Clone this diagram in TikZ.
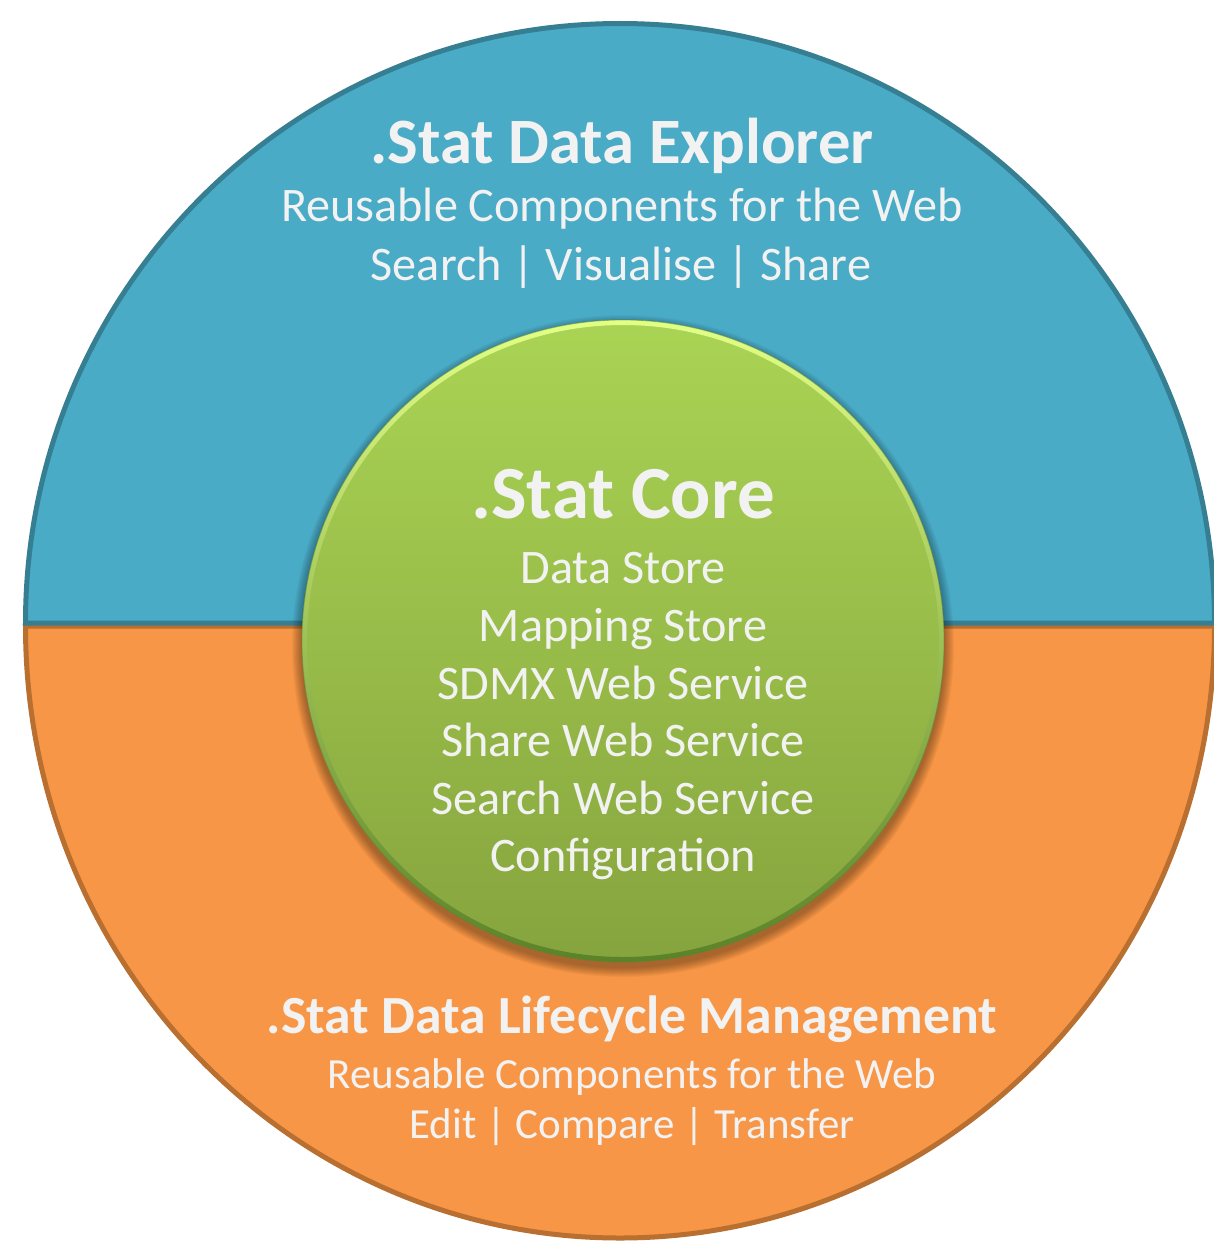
\documentclass[tikz,border=0pt]{standalone}
\usepackage{fontspec}
\setmainfont{Carlito}
\definecolor{blueF}{HTML}{4AABC6}
\definecolor{blueD}{HTML}{367F93}
\definecolor{orF}{HTML}{F79646}
\definecolor{orD}{HTML}{B86F30}
\definecolor{gTop}{HTML}{AAD454}
\definecolor{gMid}{HTML}{99BD4B}
\definecolor{gBot}{HTML}{86A43E}
\definecolor{gLight}{HTML}{E2FF86}
\definecolor{gDark}{HTML}{5A8229}
\definecolor{txt}{HTML}{F2F2F2}
\begin{document}
\begin{tikzpicture}[x=1pt,y=-1pt,
  lbl/.style={text=txt, anchor=base, inner sep=0pt},
  ttlA/.style={lbl, font=\bfseries\fontsize{64.7}{64.7}\selectfont},
  subA/.style={lbl, font=\fontsize{48.2}{48.2}\selectfont},
  ttlC/.style={lbl, font=\bfseries\fontsize{75}{75}\selectfont},
  itemC/.style={lbl, font=\fontsize{48.2}{48.2}\selectfont},
  ttlB/.style={lbl, font=\bfseries\fontsize{53.7}{53.7}\selectfont},
  subB/.style={lbl, font=\fontsize{43}{43}\selectfont}]
\useasboundingbox (0,0) rectangle (1214,1244);
\fill[white] (0,0) rectangle (1214,1244);
% bottom (orange) half
\filldraw[fill=orF, draw=orD, line width=5pt]
  (25.5,626) arc[start angle=180, end angle=360, x radius=594.5pt, y radius=612pt] -- cycle;
% top (blue) half
\filldraw[fill=blueF, draw=blueD, line width=5pt]
  (25.5,623) arc[start angle=180, end angle=0, x radius=594.5pt, y radius=599.5pt] -- cycle;
% soft shadow of core circle
\foreach \i in {0,...,9}{
  \fill[black, opacity=0.035] (623,646) circle ({331pt-\i pt});
}
% core circle
\shade[top color=gTop, middle color=gMid, bottom color=gBot] (623,641) circle (321pt);
\shade[even odd rule, top color=gLight, bottom color=gDark] (623,641) circle (321pt) (623,641) circle (316pt);
\draw[gDark, line width=0.8pt, opacity=0.5] (623,641) circle (321pt);
% texts
\node[ttlA] (dexT) at (622,163) {.Stat Data Explorer};
\node[subA] (dexS) at (622,221.5) {Reusable Components for the Web};
\node[subA] (dexF) at (621,280.5) {Search | Visualise | Share};
\node[ttlC] (coreT) at (623,518) {.Stat Core};
\node[itemC] (c1) at (623,583) {Data Store};
\node[itemC] (c2) at (623,641) {Mapping Store};
\node[itemC] (c3) at (623,699) {SDMX Web Service};
\node[itemC] (c4) at (623,756) {Share Web Service};
\node[itemC] (c5) at (623,814) {Search Web Service};
\node[itemC] (c6) at (623,871) {Configuration};
\node[ttlB] (dlmT) at (632,1033.5) {.Stat Data Lifecycle Management};
\node[subB] (dlmS) at (632,1088.5) {Reusable Components for the Web};
\node[subB] (dlmF) at (632,1138.5) {Edit | Compare | Transfer};
\end{tikzpicture}
\end{document}
